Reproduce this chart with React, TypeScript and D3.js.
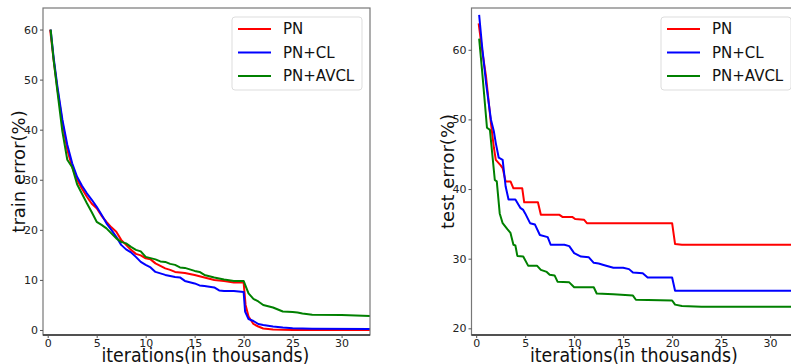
import { useEffect, useRef } from 'react';
import * as d3 from 'd3';

type Pt = [number, number];

const seriesNames = ['PN', 'PN+CL', 'PN+AVCL'];
const seriesColors = ['#ff0000', '#0000ff', '#008000'];
const xTicks = [0, 5, 10, 15, 20, 25, 30];
const trainYTicks = [0, 10, 20, 30, 40, 50, 60];
const testYTicks = [20, 30, 40, 50, 60];

const trainPN: Pt[] = [
  [0.25, 60], [0.6, 54], [1, 48], [1.5, 41.5], [2, 36], [2.5, 32.5], [3, 30], [3.5, 28.2], [4, 26.6],
  [4.5, 25.2], [5, 24.3], [5.5, 22.8], [6, 21.6], [6.5, 20.5], [7, 19.6], [7.5, 18], [8, 17],
  [8.5, 16], [9, 15.2], [9.5, 14.9], [10, 14.3], [10.5, 14.1], [11, 13.3], [11.5, 12.8], [12, 12.3],
  [12.5, 12], [13, 11.6], [14, 11.4], [15, 11], [16, 10.5], [17, 10], [18, 9.8], [19, 9.5],
  [20, 9.5], [20.2, 5], [20.5, 2.7], [21, 1.2], [21.5, 0.7], [22, 0.3], [23, 0.1], [25, 0], [33, 0],
];
const trainCL: Pt[] = [
  [0.3, 60], [0.6, 54.5], [1, 48.5], [1.5, 42], [2, 37], [2.5, 33.3], [3, 30.6], [3.5, 28.8], [4, 27.3],
  [4.5, 26], [5, 24.6], [5.5, 23], [6, 21.3], [6.5, 20], [7, 18.6], [7.5, 17], [8, 16.1],
  [8.5, 15.5], [9, 14.6], [9.5, 13.6], [10, 13], [10.5, 12.5], [11, 11.6], [12, 11], [13, 10.6],
  [13.5, 10.5], [14, 9.8], [15, 9.3], [15.5, 8.9], [16, 8.8], [17, 8.5], [17.5, 7.9], [18, 7.8],
  [19, 7.8], [20, 7.6], [20.15, 3.7], [20.5, 2.2], [21, 1.8], [21.5, 1.2], [22, 1], [23, 0.7],
  [24, 0.5], [25, 0.35], [27, 0.25], [33, 0.2],
];
const trainAVCL: Pt[] = [
  [0.3, 60], [0.6, 54], [1, 47.5], [1.5, 39.6], [2, 34], [2.5, 32.5], [3, 29.1], [3.5, 27.2], [4, 25.3],
  [4.5, 23.5], [5, 21.6], [5.5, 21], [6, 20.3], [6.5, 19.3], [7, 18.3], [7.5, 17.6], [8, 17.3],
  [8.5, 16.6], [9, 16], [9.5, 15.7], [10, 14.6], [11, 14.1], [11.5, 13.7], [12, 13.6], [12.5, 13.2],
  [13, 13], [13.5, 12.5], [14, 12.4], [15, 11.8], [15.5, 11.6], [16, 11], [17, 10.5], [18, 10.1],
  [19, 9.8], [20, 9.8], [20.2, 8.8], [20.5, 7.3], [21, 6.2], [21.5, 5.7], [22, 5], [23, 4.5],
  [24, 3.7], [25, 3.6], [25.5, 3.5], [26, 3.3], [27, 3.05], [30, 3], [33, 2.8],
];

const testPN: Pt[] = [
  [0.25, 63.8], [0.6, 60], [1, 56.2], [1.5, 49.5], [1.8, 46], [2, 44.2], [2.5, 43.4], [2.7, 43],
  [3, 41.1], [3.5, 41.1], [3.8, 40.1], [4.7, 40.1], [4.9, 38.1], [6.3, 38.1], [6.6, 36.3],
  [8.5, 36.3], [8.8, 36], [9.8, 36], [10.1, 35.7], [11, 35.6], [11.3, 35.1], [20, 35.1],
  [20.3, 32.1], [21, 32], [33, 32],
];
const testCL: Pt[] = [
  [0.3, 65], [0.6, 60.5], [1, 55.3], [1.5, 50], [1.8, 48.3], [2, 46.6], [2.3, 44.5], [2.7, 44.2],
  [3, 40.4], [3.3, 38.5], [4, 38.5], [4.5, 37.3], [4.8, 37], [5, 36.5], [5.5, 35.1], [6, 34.9],
  [6.5, 33.4], [7.3, 33.1], [7.6, 32], [9, 32], [9.5, 31.8], [10, 30.8], [10.7, 30.3], [11.5, 30.2],
  [12, 29.4], [12.5, 29.3], [13, 29.1], [14, 28.7], [15, 28.7], [15.6, 28.5], [16, 28], [17, 27.9],
  [17.5, 27.3], [20, 27.3], [20.3, 25.4], [33, 25.4],
];
const testAVCL: Pt[] = [
  [0.3, 61.6], [0.6, 57], [1.1, 48.8], [1.4, 48.5], [1.9, 41.3], [2.1, 41.1], [2.4, 36.5], [2.7, 35.1],
  [3.2, 34.2], [3.5, 33.7], [3.8, 32], [4, 31.9], [4.2, 30.4], [4.8, 30.3], [5.3, 29], [6.2, 29],
  [6.6, 28.4], [7.2, 28.1], [7.5, 27.7], [8, 27.6], [8.3, 26.7], [9.5, 26.6], [10, 25.9], [12, 25.9],
  [12.3, 25], [14, 24.9], [16, 24.7], [16.3, 24.1], [20, 24], [20.3, 23.4], [21, 23.2], [23, 23.1],
  [33, 23.1],
];

const trainSeries = [trainPN, trainCL, trainAVCL];
const testSeries = [testPN, testCL, testAVCL];

interface PanelProps {
  left: number;
  right: number;
  yDomain: [number, number];
  yTicks: number[];
  yLabel: string;
  yLabelX: number;
  series: Pt[][];
  legendX: number;
  clipId: string;
}

function drawPanel(svg: d3.Selection<SVGSVGElement, unknown, null, undefined>, p: PanelProps) {
  const top = 8;
  const bottom = 335;
  const x = d3.scaleLinear().domain([-0.48, 32.9]).range([p.left, p.right]);
  const y = d3.scaleLinear().domain(p.yDomain).range([bottom, top]);

  svg.append('defs').append('clipPath').attr('id', p.clipId)
    .append('rect')
    .attr('x', p.left).attr('y', top)
    .attr('width', p.right - p.left).attr('height', bottom - top);

  const g = svg.append('g');

  const line = d3.line<Pt>().x(d => x(d[0])).y(d => y(d[1]));
  p.series.forEach((s, i) => {
    g.append('path')
      .datum(s)
      .attr('clip-path', `url(#${p.clipId})`)
      .attr('fill', 'none')
      .attr('stroke', seriesColors[i])
      .attr('stroke-width', 2)
      .attr('stroke-linejoin', 'round')
      .attr('d', line);
  });

  // frame
  g.append('rect')
    .attr('x', p.left).attr('y', top)
    .attr('width', p.right - p.left).attr('height', bottom - top)
    .attr('fill', 'none').attr('stroke', '#777').attr('stroke-width', 1.2);
  g.append('line')
    .attr('x1', p.left).attr('x2', p.right).attr('y1', bottom).attr('y2', bottom)
    .attr('stroke', '#333').attr('stroke-width', 1.4);

  const xAxis = g.append('g')
    .attr('transform', `translate(0,${bottom})`)
    .call(d3.axisBottom(x).tickValues(xTicks).tickSize(3).tickPadding(1));
  xAxis.select('.domain').remove();
  xAxis.selectAll('line').attr('stroke', '#555');
  xAxis.selectAll('text').attr('fill', '#222').attr('font-size', '11px')
    .attr('font-family', 'DejaVu Sans, sans-serif');

  const yAxis = g.append('g')
    .attr('transform', `translate(${p.left},0)`)
    .call(d3.axisLeft(y).tickValues(p.yTicks).tickSize(3).tickPadding(2));
  yAxis.select('.domain').remove();
  yAxis.selectAll('line').attr('stroke', '#555');
  yAxis.selectAll('text').attr('fill', '#222').attr('font-size', '11px')
    .attr('font-family', 'DejaVu Sans, sans-serif');

  g.append('text')
    .attr('transform', `translate(${p.yLabelX},${(top + bottom) / 2}) rotate(-90)`)
    .attr('text-anchor', 'middle')
    .attr('dominant-baseline', 'central')
    .attr('font-size', '18px')
    .attr('font-family', 'DejaVu Sans, sans-serif')
    .attr('fill', '#111')
    .text(p.yLabel);

  g.append('text')
    .attr('x', x(16.1) - 104)
    .attr('y', 362)
    .attr('font-size', '19px')
    .attr('font-family', 'DejaVu Sans, sans-serif')
    .attr('textLength', 208)
    .attr('lengthAdjust', 'spacingAndGlyphs')
    .attr('fill', '#111')
    .text('iterations(in thousands)');

  // legend
  const lg = g.append('g').attr('transform', `translate(${p.legendX},17)`);
  lg.append('rect')
    .attr('width', 130).attr('height', 73).attr('rx', 3)
    .attr('fill', '#fff').attr('fill-opacity', 0.8)
    .attr('stroke', '#ddd');
  seriesNames.forEach((name, i) => {
    const yy = 12 + i * 23.5;
    lg.append('line')
      .attr('x1', 6).attr('x2', 39).attr('y1', yy).attr('y2', yy)
      .attr('stroke', seriesColors[i]).attr('stroke-width', 2);
    lg.append('text')
      .attr('x', 51).attr('y', yy)
      .attr('dominant-baseline', 'central')
      .attr('font-size', '15px')
      .attr('font-family', 'DejaVu Sans, sans-serif')
      .attr('fill', '#111')
      .text(name);
  });
}

export default function App() {
  const svgRef = useRef<SVGSVGElement>(null);

  useEffect(() => {
    if (!svgRef.current) return;
    const svg = d3.select(svgRef.current);
    svg.selectAll('*').remove();

    drawPanel(svg, {
      left: 43, right: 370, yDomain: [-1, 64.3], yTicks: trainYTicks,
      yLabel: 'train error(%)', yLabelX: 18, series: trainSeries, legendX: 232, clipId: 'clip-train',
    });
    drawPanel(svg, {
      left: 471.5, right: 798.5, yDomain: [19.04, 66], yTicks: testYTicks,
      yLabel: 'test error(%)', yLabelX: 447, series: testSeries, legendX: 661, clipId: 'clip-test',
    });
  }, []);

  return (
    <svg
      ref={svgRef}
      width={791}
      height={364}
      style={{ position: 'absolute', left: 0, top: 0, background: '#fff' }}
    />
  );
}
